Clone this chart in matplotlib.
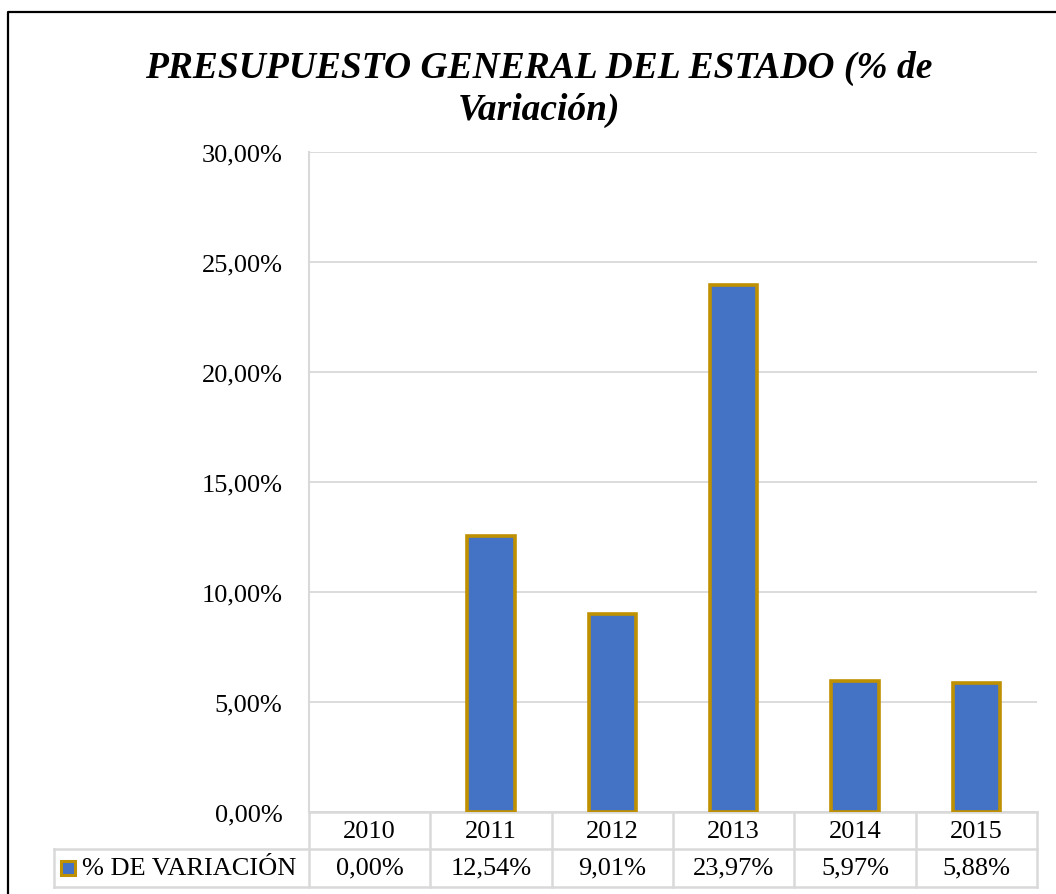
import numpy as np
import matplotlib
matplotlib.use('Agg')
import matplotlib.pyplot as plt
from matplotlib.lines import Line2D
from matplotlib.patches import Rectangle
import matplotlib.transforms as mtransforms

years = ['2010', '2011', '2012', '2013', '2014', '2015']
variacion = [0.00, 12.54, 9.01, 23.97, 5.97, 5.88]
serie = '% DE VARIACIÓN'
titulo = 'PRESUPUESTO GENERAL DEL ESTADO (% de\nVariación)'

BLUE = '#4472C4'
GOLD = '#BF9000'
GRID = '#D9D9D9'
FS = 19

plt.rcParams['font.family'] = ['Liberation Serif', 'DejaVu Serif']

fig = plt.figure(figsize=(10.56, 8.95), dpi=100)
ax = fig.add_axes([0.2926, 0.0916, 0.6894, 0.7374])

x = np.arange(len(years))
edges = [GOLD if v > 0 else 'none' for v in variacion]
ax.bar(x, variacion, width=0.39, color=BLUE, edgecolor=edges, linewidth=2.6, zorder=3)

ax.set_xlim(-0.5, len(years) - 0.5)
ax.set_ylim(0, 30)
ax.set_yticks(np.arange(0, 31, 5))
ax.set_yticklabels([f'{t:.2f}%'.replace('.', ',') for t in np.arange(0, 31, 5)], fontsize=FS)
ax.tick_params(axis='y', length=0, pad=19)
ax.set_xticks([])
ax.grid(axis='y', color=GRID, linewidth=1.3, zorder=0)
for s in ['top', 'right', 'bottom']:
    ax.spines[s].set_visible(False)
ax.spines['left'].set_color(GRID)
ax.spines['left'].set_linewidth(1.5)

# data table below the plot (x in data units, y in axes fraction)
tr = mtransforms.blended_transform_factory(ax.transData, ax.transAxes)
row_h = 0.0565
lab_left = -2.6
lkw = dict(color=GRID, linewidth=1.8, transform=tr, clip_on=False)
# horizontal lines
ax.add_line(Line2D([-0.5, len(years) - 0.5], [0, 0], **lkw))
ax.add_line(Line2D([lab_left, len(years) - 0.5], [-row_h, -row_h], **lkw))
ax.add_line(Line2D([lab_left, len(years) - 0.5], [-2 * row_h, -2 * row_h], **lkw))
# vertical lines
for b in np.arange(-0.5, len(years), 1.0):
    ax.add_line(Line2D([b, b], [0, -2 * row_h], **lkw))
ax.add_line(Line2D([lab_left, lab_left], [-row_h, -2 * row_h], **lkw))

for i, (yr, v) in enumerate(zip(years, variacion)):
    ax.text(i, -row_h / 2, yr, transform=tr, ha='center', va='center', fontsize=FS)
    ax.text(i, -1.5 * row_h, f'{v:.2f}%'.replace('.', ','), transform=tr,
            ha='center', va='center', fontsize=FS)

# legend key + series name
ax.add_patch(Rectangle((lab_left + 0.06, -1.5 * row_h - 0.011), 0.11, 0.022,
                       facecolor=BLUE, edgecolor=GOLD, linewidth=2.2,
                       transform=tr, clip_on=False))
ax.text(lab_left + 0.23, -1.5 * row_h, serie, transform=tr, ha='left', va='center', fontsize=FS)

fig.text(0.51, 0.900, titulo, ha='center', va='center', fontsize=27,
         fontweight='bold', fontstyle='italic', linespacing=1.25)

# chart area border (left and top visible)
fig.add_artist(Line2D([8 / 1056, 8 / 1056, 1.01], [-0.01, 1 - 13 / 895, 1 - 13 / 895],
                      color='black', linewidth=1.6, transform=fig.transFigure))

fig.savefig('out.png', dpi=100)
